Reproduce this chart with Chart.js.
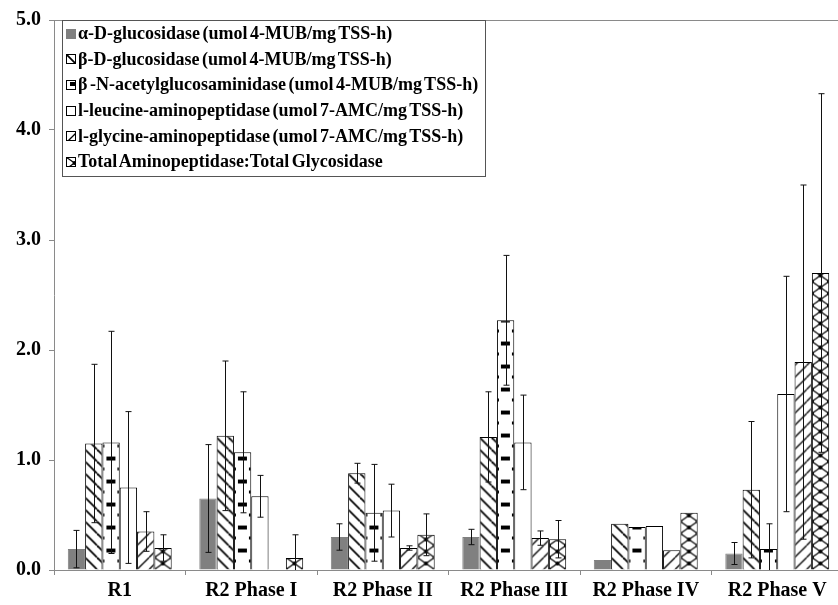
<!DOCTYPE html>
<html>
<head>
<meta charset="utf-8">
<script src="https://cdn.jsdelivr.net/npm/chart.js@4.4.1/dist/chart.umd.min.js"></script>
<style>
    html, body { margin: 0; padding: 0; background: #fff; overflow: hidden; }
    #wrap { position: relative; width: 838px; height: 605px; overflow: hidden; }
    #chart { position: absolute; left: 0; top: 0; }
    #legend {
        position: absolute; left: 62px; top: 20px; width: 424px; height: 157px;
        border: 1px solid #555; background: #fff; box-sizing: border-box;
        padding: 0 0 0 3px;
        font: bold 18px "Liberation Serif", "Times New Roman", serif; color: #000;
    }
    #legend .row { height: 25.6px; display: flex; align-items: center; white-space: nowrap; word-spacing: -2px; }
    #legend canvas { margin-right: 2px; flex: none; }
</style>
</head>
<body>
<div id="wrap">
    <canvas id="chart" width="845" height="605"></canvas>
    <div id="legend"></div>
</div>
<script>
const categories = ['R1', 'R2 Phase I', 'R2 Phase II', 'R2 Phase III', 'R2 Phase IV', 'R2 Phase V'];

const alphaGlu = [0.19, 0.65, 0.30, 0.30, 0.09, 0.15];
const alphaGluErr = [0.17, 0.49, 0.12, 0.07, 0, 0.10];
const betaGlu = [1.15, 1.22, 0.88, 1.21, 0.42, 0.73];
const betaGluErr = [0.72, 0.68, 0.09, 0.41, 0, 0.62];
const nag = [1.16, 1.07, 0.52, 2.27, 0.39, 0.19];
const nagErr = [1.01, 0.55, 0.44, 0.59, 0, 0.23];
const leucine = [0.75, 0.67, 0.54, 1.16, 0.40, 1.60];
const leucineErr = [0.69, 0.19, 0.24, 0.43, 0, 1.07];
const glycine = [0.35, null, 0.20, 0.29, 0.18, 1.89];
const glycineErr = [0.18, 0, 0.02, 0.065, 0, 1.61];
const ratio = [0.20, 0.11, 0.32, 0.28, 0.52, 2.70];
const ratioErr = [0.12, 0.21, 0.19, 0.17, 0, 1.63];

const yTicks = [0, 1, 2, 3, 4, 5];

const FONT = '"Liberation Serif", "Times New Roman", serif';

// small tiles for the hatch fills
function makeTile(kind) {
    const t = document.createElement('canvas');
    let w = 12, h = 12;
    if (kind === 'dash') { w = 17; h = 23; }
    if (kind === 'cross') { w = 17; h = 12; }
    t.width = w; t.height = h;
    const c = t.getContext('2d');
    c.fillStyle = '#fff';
    c.fillRect(0, 0, w, h);
    c.strokeStyle = '#000';
    c.fillStyle = '#000';
    if (kind === 'down') {
        c.lineWidth = 1.8;
        for (const o of [-w, 0, w]) {
            c.beginPath(); c.moveTo(o, 0); c.lineTo(o + w, h); c.stroke();
        }
    } else if (kind === 'up') {
        c.lineWidth = 1.3;
        for (const o of [-w, 0, w]) {
            c.beginPath(); c.moveTo(o, h); c.lineTo(o + w, 0); c.stroke();
        }
    } else if (kind === 'dash') {
        c.fillRect(4, 2, 9, 4);
        c.fillRect(0, 13, 2, 3);
        c.fillRect(15, 13, 2, 3);
    } else if (kind === 'cross') {
        c.lineWidth = 1.2;
        c.beginPath(); c.moveTo(0, 0); c.lineTo(w, h); c.stroke();
        c.beginPath(); c.moveTo(w, 0); c.lineTo(0, h); c.stroke();
        const dots = [[w / 2, h / 2], [0, 0], [w, 0], [0, h], [w, h]];
        dots.forEach(([x, y]) => { c.beginPath(); c.arc(x, y, 2, 0, Math.PI * 2); c.fill(); });
    }
    return t;
}

const tiles = { down: makeTile('down'), up: makeTile('up'), dash: makeTile('dash'), cross: makeTile('cross') };
const baseCtx = document.getElementById('chart').getContext('2d');

function patternFill(kind) {
    if (kind === 'white') return () => '#fff';
    // a fresh pattern per bar so each one can be anchored to its own bar
    return () => baseCtx.createPattern(tiles[kind], 'repeat');
}

const series = [
    { label: 'α-D-glucosidase (umol 4-MUB/mg TSS-h)', data: alphaGlu, err: alphaGluErr, fill: 'solid' },
    { label: 'β-D-glucosidase (umol 4-MUB/mg TSS-h)', data: betaGlu, err: betaGluErr, fill: 'down' },
    { label: 'β -N-acetylglucosaminidase (umol 4-MUB/mg TSS-h)', data: nag, err: nagErr, fill: 'dash' },
    { label: 'l-leucine-aminopeptidase (umol 7-AMC/mg TSS-h)', data: leucine, err: leucineErr, fill: 'white' },
    { label: 'l-glycine-aminopeptidase (umol 7-AMC/mg TSS-h)', data: glycine, err: glycineErr, fill: 'up' },
    { label: 'Total Aminopeptidase:Total Glycosidase', data: ratio, err: ratioErr, fill: 'cross' }
];

const datasets = series.map(s => ({
    label: s.label,
    data: s.data,
    errors: s.err,
    backgroundColor: s.fill === 'solid' ? '#808080' : patternFill(s.fill),
    borderColor: s.fill === 'solid' ? '#808080' : '#000',
    borderWidth: 1,
    categoryPercentage: 0.79,
    barPercentage: 1.0
}));

const patternAnchor = {
    id: 'patternAnchor',
    beforeDatasetsDraw(chart) {
        chart.data.datasets.forEach((ds, i) => {
            chart.getDatasetMeta(i).data.forEach(bar => {
                const bg = bar.options.backgroundColor;
                if (bg instanceof CanvasPattern) {
                    const left = bar.x - bar.width / 2;
                    bg.setTransform(new DOMMatrix().translate(left, bar.base));
                }
            });
        });
    }
};

const errorBars = {
    id: 'errorBars',
    afterDatasetsDraw(chart) {
        const { ctx, chartArea, scales } = chart;
        const y = scales.y;
        ctx.save();
        ctx.beginPath();
        ctx.rect(chartArea.left, chartArea.top, chartArea.right - chartArea.left, chartArea.bottom - chartArea.top);
        ctx.clip();
        ctx.strokeStyle = '#111';
        ctx.lineWidth = 1;
        chart.data.datasets.forEach((ds, i) => {
            chart.getDatasetMeta(i).data.forEach((bar, j) => {
                const v = ds.data[j];
                const e = ds.errors[j];
                if (v == null || !e) return;
                const x = Math.round(bar.x) + 0.5;
                const top = y.getPixelForValue(v + e);
                const bottom = y.getPixelForValue(v - e);
                ctx.beginPath();
                ctx.moveTo(x, top); ctx.lineTo(x, bottom);
                ctx.moveTo(x - 3, top); ctx.lineTo(x + 3, top);
                ctx.moveTo(x - 3, bottom); ctx.lineTo(x + 3, bottom);
                ctx.stroke();
            });
        });
        ctx.restore();
    }
};

new Chart(baseCtx, {
    type: 'bar',
    data: { labels: categories, datasets: datasets },
    options: {
        responsive: false,
        animation: false,
        devicePixelRatio: 1,
        layout: { padding: { top: 14, right: 2, left: 0, bottom: 0 } },
        plugins: {
            legend: { display: false },
            tooltip: { enabled: false }
        },
        scales: {
            x: {
                afterFit: s => { s.height = 35; },
                ticks: { color: '#000', font: { family: FONT, size: 20, weight: 'bold' }, padding: 4 },
                grid: { offset: true, drawOnChartArea: false, tickLength: 5, color: '#8a8a8a' },
                border: { color: '#8a8a8a', width: 1 }
            },
            y: {
                min: 0,
                max: 5,
                afterFit: s => { s.width = 54; },
                afterBuildTicks: s => { s.ticks = yTicks.map(v => ({ value: v })); },
                ticks: {
                    color: '#000',
                    font: { family: FONT, size: 20, weight: 'bold' },
                    padding: 8,
                    callback: v => v.toFixed(1)
                },
                grid: {
                    drawOnChartArea: true,
                    tickLength: 5,
                    tickColor: '#8a8a8a',
                    color: c => (c.tick && c.tick.value === 5 ? '#8a8a8a' : 'rgba(0,0,0,0)')
                },
                border: { color: '#8a8a8a', width: 1 }
            }
        }
    },
    plugins: [patternAnchor, errorBars]
});

// legend with the same fills as the bars
const legendEl = document.getElementById('legend');
series.forEach(s => {
    const row = document.createElement('div');
    row.className = 'row';
    const sw = document.createElement('canvas');
    sw.width = 10; sw.height = 10;
    const c = sw.getContext('2d');
    if (s.fill === 'solid') {
        c.fillStyle = '#808080';
        c.fillRect(0, 0, 10, 10);
    } else {
        c.fillStyle = s.fill === 'white' ? '#fff' : c.createPattern(tiles[s.fill], 'repeat');
        c.fillRect(0, 0, 10, 10);
        c.strokeStyle = '#000';
        c.lineWidth = 1;
        c.strokeRect(0.5, 0.5, 9, 9);
    }
    row.appendChild(sw);
    const span = document.createElement('span');
    span.textContent = s.label;
    row.appendChild(span);
    legendEl.appendChild(row);
});
</script>
</body>
</html>
